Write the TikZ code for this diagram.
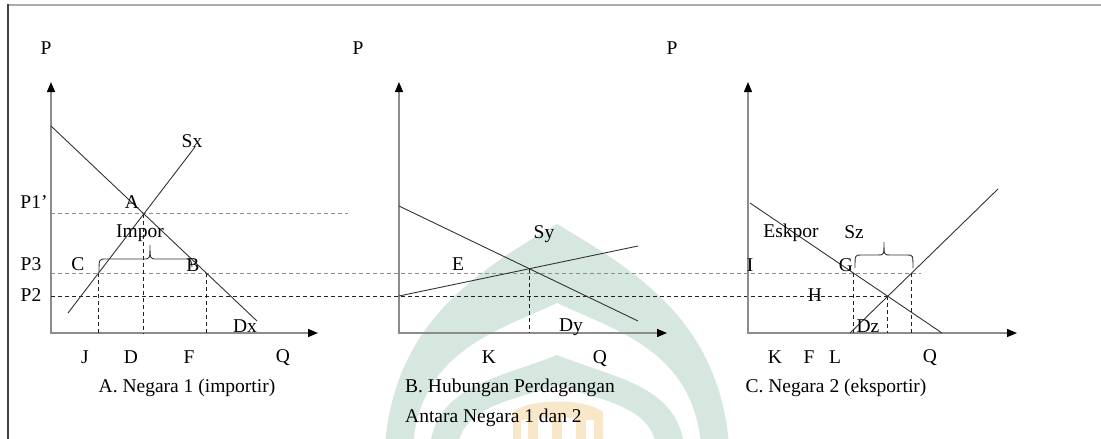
\documentclass[tikz,border=0pt]{standalone}
\usepackage{fontspec}
\setmainfont{Liberation Serif}
\usetikzlibrary{arrows.meta}
\definecolor{axisgray}{HTML}{8C8C8C}
\definecolor{curvecol}{HTML}{333333}
\definecolor{dashgray}{HTML}{8E8E8E}
\definecolor{dashdark}{HTML}{222222}
\definecolor{wmteal}{HTML}{D6E7E0}
\definecolor{wmorange}{HTML}{F8E7C9}
\begin{document}
\begin{tikzpicture}[x=1pt,y=-1pt,
  lbl/.style={font=\fontsize{19.5}{23}\selectfont, inner sep=0pt},
  axisline/.style={draw=axisgray, line width=1.3pt,
    {Triangle[color=black,length=10pt,width=8pt]}-{Triangle[color=black,length=10pt,width=8pt]}},
  curveline/.style={draw=curvecol, line width=0.9pt},
  lightdash/.style={draw=dashgray, line width=1pt, dash pattern=on 4pt off 3pt},
  darkdash/.style={draw=dashdark, line width=0.9pt, dash pattern=on 4pt off 3pt},
  vdash/.style={draw=dashdark, line width=0.9pt, dash pattern=on 4pt off 3pt}]
\useasboundingbox (0,0) rectangle (1101,439);

% watermark
\begin{scope}
\clip (0,0) rectangle (1101,439);
\fill[wmteal, even odd rule]
  (385,445) .. controls (395,320) and (480,270) .. (557,224)
  .. controls (634,270) and (719,320) .. (729,445) -- cycle
  (413,445) .. controls (421,350) and (500,330) .. (557,303)
  .. controls (614,330) and (693,350) .. (701,445) -- cycle;
\fill[wmteal, even odd rule]
  (430,445) .. controls (438,385) and (500,378) .. (557,355)
  .. controls (614,378) and (676,385) .. (684,445) -- cycle
  (458,445) .. controls (465,405) and (515,400) .. (557,385)
  .. controls (599,400) and (649,405) .. (656,445) -- cycle;
\fill[wmorange] (513,445) -- (513,412) .. controls (530,398) and (586,398) .. (603,412) -- (603,445) -- cycle;
\fill[white] (521,420) rectangle (528,445);
\fill[white] (538,418) rectangle (552,445);
\fill[white] (562,418) rectangle (576,445);
\fill[white] (586,420) rectangle (594,445);
\end{scope}

% frame
\draw[draw=gray!65, line width=2pt] (8,5) -- (1101,5);
\draw[draw=black!75, line width=1.2pt] (8,4) -- (8,439);

% ---------- Panel A ----------
\coordinate (oA) at (51,333);
\coordinate (yA) at (51,82);
\coordinate (xA) at (318,333);
\draw[axisline] (yA) -- (oA) -- (xA);
\coordinate (dA1) at (51,126);
\coordinate (dA2) at (257,321);
\coordinate (sA1) at (68,313);
\coordinate (sA2) at (195,147);
\coordinate (p1R) at (348,212);
\coordinate (p3L) at (51,273);
\coordinate (p3R) at (921,273);
\coordinate (p2L) at (51,296);
\coordinate (p2R) at (887,296);
\coordinate (ptA) at (intersection of dA1--dA2 and sA1--sA2);
\coordinate (ptC) at (intersection of sA1--sA2 and p3L--p3R);
\coordinate (ptB) at (intersection of dA1--dA2 and p3L--p3R);

\draw[lightdash] (oA |- ptA) -- (p1R |- ptA);
\draw[lightdash] (p3L) -- (p3R);
\draw[darkdash] (p2L) -- (p2R);
\draw[vdash] (ptC) -- (ptC |- oA);
\draw[vdash] (ptA) -- (ptA |- oA);
\draw[vdash] (ptB) -- (ptB |- oA);
\draw[curveline] (dA1) -- (dA2);
\draw[curveline] (sA1) -- (sA2);
% brace (Impor)
\draw[curveline] (99,272) .. controls (99,259) .. (106,259) -- (143,259)
  .. controls (150,259) .. (150,245) .. controls (150,259) .. (157,259)
  -- (184,259) .. controls (191,259) .. (192,267);

\node[lbl] (PA) at (46,48) {P};
\node[lbl] (P1) at (34,202) {P1’};
\node[lbl] (lA) at (132,202) {A};
\node[lbl] (Sx) at (192,141) {Sx};
\node[lbl] (Impor) at (140,233) {Impor};
\node[lbl] (lC) at (78,264) {C};
\node[lbl] (lB) at (193,265) {B};
\node[lbl] (P3) at (31,264) {P3};
\node[lbl] (P2) at (31,295) {P2};
\node[lbl] (Dx) at (245,326) {Dx};
\node[lbl] (lJ) at (85,357) {J};
\node[lbl] (lD) at (131,357) {D};
\node[lbl] (lF) at (189,357) {F};
\node[lbl] (QA) at (283,358) {Q};
\node[lbl] (capA) at (187,388) {A. Negara 1 (importir)};

% ---------- Panel B ----------
\coordinate (oB) at (399,333);
\coordinate (yB) at (399,82);
\coordinate (xB) at (667,333);
\draw[axisline] (yB) -- (oB) -- (xB);
\coordinate (dB1) at (399,206);
\coordinate (dB2) at (638,321);
\coordinate (sB1) at (399,296);
\coordinate (sB2) at (638,246);
\coordinate (ptE) at (intersection of dB1--dB2 and sB1--sB2);
\draw[vdash] (ptE) -- (ptE |- oB);
\draw[curveline] (dB1) -- (dB2);
\draw[curveline] (sB1) -- (sB2);

\node[lbl] (PB) at (358,48) {P};
\node[lbl] (Sy) at (544,234) {Sy};
\node[lbl] (lE) at (458,264) {E};
\node[lbl] (Dy) at (571,327) {Dy};
\node[lbl] (lK) at (489,357) {K};
\node[lbl] (QB) at (600,359) {Q};
\node[lbl, anchor=west] (capB1) at (405,388) {B. Hubungan Perdagangan};
\node[lbl, anchor=west] (capB2) at (405,418) {Antara Negara 1 dan 2};

% ---------- Panel C ----------
\coordinate (oC) at (748,333);
\coordinate (yC) at (748,82);
\coordinate (xC) at (1017,333);
\draw[axisline] (yC) -- (oC) -- (xC);
\coordinate (dC1) at (750,203);
\coordinate (dC2) at (942,333);
\coordinate (sC1) at (850,333);
\coordinate (sC2) at (998,189);
\coordinate (ptH) at (intersection of dC1--dC2 and sC1--sC2);
\coordinate (ptG) at (intersection of dC1--dC2 and p3L--p3R);
\coordinate (ptS) at (intersection of sC1--sC2 and p3L--p3R);
\draw[vdash] (ptG) -- (ptG |- oC);
\draw[vdash] (ptH) -- (ptH |- oC);
\draw[vdash] (ptS) -- (ptS |- oC);
\draw[curveline] (dC1) -- (dC2);
\draw[curveline] (sC1) -- (sC2);
% brace (Eskpor)
\draw[curveline] (855,268) .. controls (855,255) .. (861,255) -- (878,255)
  .. controls (884,255) .. (884,242) .. controls (884,255) .. (890,255)
  -- (907,255) .. controls (913,255) .. (913,268);

\node[lbl] (PC) at (672,48) {P};
\node[lbl] (Eskpor) at (791,233) {Eskpor};
\node[lbl] (Sz) at (854,232) {Sz};
\node[lbl] (lI) at (750,265) {I};
\node[lbl] (lG) at (846,265) {G};
\node[lbl] (lH) at (815,295) {H};
\node[lbl] (Dz) at (868,326) {Dz};
\node[lbl] (KC) at (775,357) {K};
\node[lbl] (FC) at (809,357) {F};
\node[lbl] (lL) at (835,357) {L};
\node[lbl] (QC) at (930,358) {Q};
\node[lbl] (capC) at (836,388) {C. Negara 2 (eksportir)};
\end{tikzpicture}
\end{document}
